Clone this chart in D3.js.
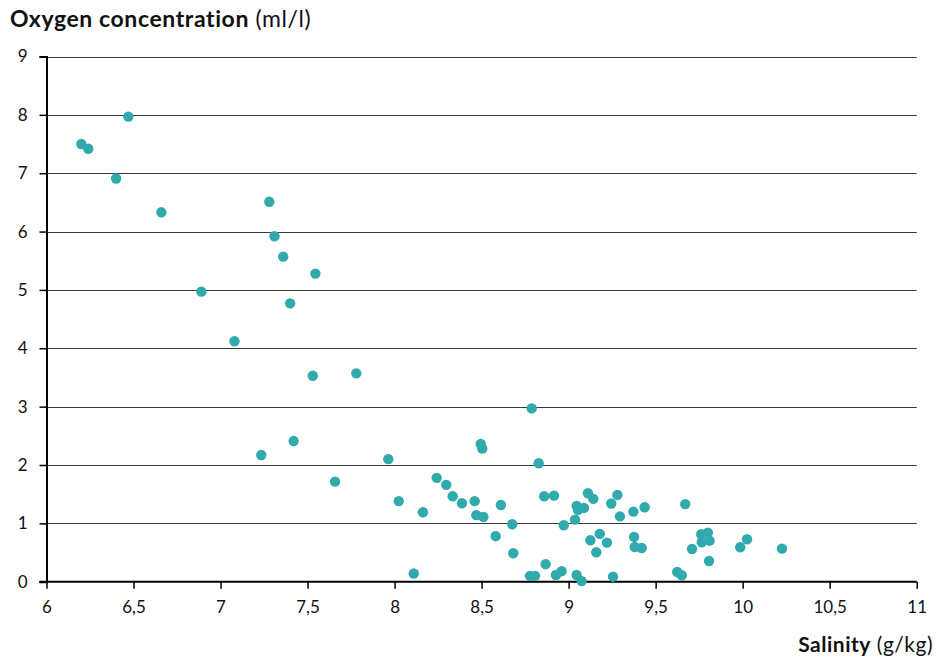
<!DOCTYPE html>
<html>
<head>
<meta charset="utf-8">
<script src="https://cdn.jsdelivr.net/npm/d3@7"></script>
<style>
  html, body { margin: 0; padding: 0; background: #fff; }
  svg text { font-family: Lato, "Open Sans", sans-serif; fill: #111; }
</style>
</head>
<body>
<svg id="chart" width="939" height="664"></svg>
<script>
// Data
const salinity = [
  6.20, 6.24, 6.47, 6.40, 6.66, 6.89, 7.08, 7.28, 7.31, 7.36,
  7.545, 7.40, 7.53, 7.78, 7.234, 7.42, 7.658, 7.964, 8.024, 8.11,
  8.163, 8.242, 8.297, 8.334, 8.387, 8.46, 8.47, 8.51, 8.495, 8.504,
  8.611, 8.581, 8.676, 8.682, 8.788, 8.828, 8.86, 8.916, 8.778, 8.807,
  8.868, 8.927, 8.96, 8.972, 9.037, 9.046, 9.054, 9.088, 9.046, 9.075,
  9.111, 9.142, 9.125, 9.159, 9.179, 9.22, 9.245, 9.28, 9.295, 9.255,
  9.372, 9.376, 9.38, 9.42, 9.437, 9.624, 9.65, 9.67, 9.709, 9.762,
  9.80, 9.765, 9.81, 9.807, 9.986, 10.025, 10.226
];
const oxygen = [
  7.50, 7.42, 7.97, 6.91, 6.33, 4.97, 4.12, 6.51, 5.92, 5.57,
  5.28, 4.77, 3.53, 3.57, 2.17, 2.41, 1.715, 2.10, 1.38, 0.14,
  1.19, 1.78, 1.66, 1.465, 1.345, 1.38, 1.14, 1.11, 2.36, 2.28,
  1.315, 0.78, 0.985, 0.487, 2.97, 2.03, 1.465, 1.475, 0.10, 0.10,
  0.30, 0.115, 0.18, 0.967, 1.063, 1.30, 1.23, 1.264, 0.115, 0.01,
  1.516, 1.42, 0.71, 0.504, 0.82, 0.67, 1.34, 1.487, 1.12, 0.086,
  1.20, 0.767, 0.595, 0.578, 1.276, 0.166, 0.11, 1.33, 0.56, 0.813,
  0.84, 0.676, 0.703, 0.355, 0.59, 0.727, 0.566
];
const xTicks = [6, 6.5, 7, 7.5, 8, 8.5, 9, 9.5, 10, 10.5, 11];
const yTicks = [0, 1, 2, 3, 4, 5, 6, 7, 8, 9];
const xDomain = [6, 11];
const yDomain = [0, 9];

const svg = d3.select("#chart");
const x = d3.scaleLinear().domain(xDomain).range([46.5, 916.7]);
const y = d3.scaleLinear().domain(yDomain).range([581.7, 56.5]);
const fmt = v => String(v).replace(".", ",");

// gridlines
svg.append("g").selectAll("line").data(yTicks.filter(t => t > 0)).join("line")
  .attr("x1", x(6)).attr("x2", x(11))
  .attr("y1", d => Math.round(y(d)) + 0.5).attr("y2", d => Math.round(y(d)) + 0.5)
  .attr("stroke", "#3a3a3a").attr("stroke-width", 1);

// y axis
const yAxis = svg.append("g").attr("transform", `translate(${x(6)},0)`)
  .call(d3.axisLeft(y).tickValues(yTicks).tickFormat(fmt).tickSize(7).tickPadding(12));
yAxis.select(".domain").attr("stroke", "#000").attr("stroke-width", 2);
yAxis.selectAll(".tick line").attr("stroke", "#000").attr("stroke-width", 1.5);
yAxis.selectAll("text").style("font-size", "17px").attr("fill", "#111");

// x axis
const xAxis = svg.append("g").attr("transform", `translate(0,${y(0)})`)
  .call(d3.axisBottom(x).tickValues(xTicks).tickFormat(fmt).tickSize(7).tickPadding(12).tickSizeOuter(0));
xAxis.select(".domain").attr("stroke", "#000").attr("stroke-width", 2)
  .attr("d", `M${x(6) - 7},0H${x(11)}`);
xAxis.selectAll(".tick line").attr("stroke", "#000").attr("stroke-width", 1.5);
xAxis.selectAll("text").style("font-size", "17px").attr("fill", "#111");

// points
const pts = salinity.map((s, i) => ({ s, o: oxygen[i] }));
svg.append("g").selectAll("circle").data(pts).join("circle")
  .attr("cx", d => x(d.s)).attr("cy", d => y(d.o)).attr("r", 5.2)
  .attr("fill", "#30aaad");

// titles
const t1 = svg.append("text").attr("x", 10).attr("y", 27)
  .style("font-size", "23px").style("letter-spacing", "0.6px");
t1.append("tspan").attr("font-weight", "bold").text("Oxygen concentration");
t1.append("tspan").attr("font-weight", "normal").text(" (ml/l)");

const t2 = svg.append("text").attr("x", 933).attr("y", 652).attr("text-anchor", "end")
  .style("font-size", "21px").style("letter-spacing", "0.5px");
t2.append("tspan").attr("font-weight", "bold").text("Salinity");
t2.append("tspan").attr("font-weight", "normal").text(" (g/kg)");
</script>
</body>
</html>
